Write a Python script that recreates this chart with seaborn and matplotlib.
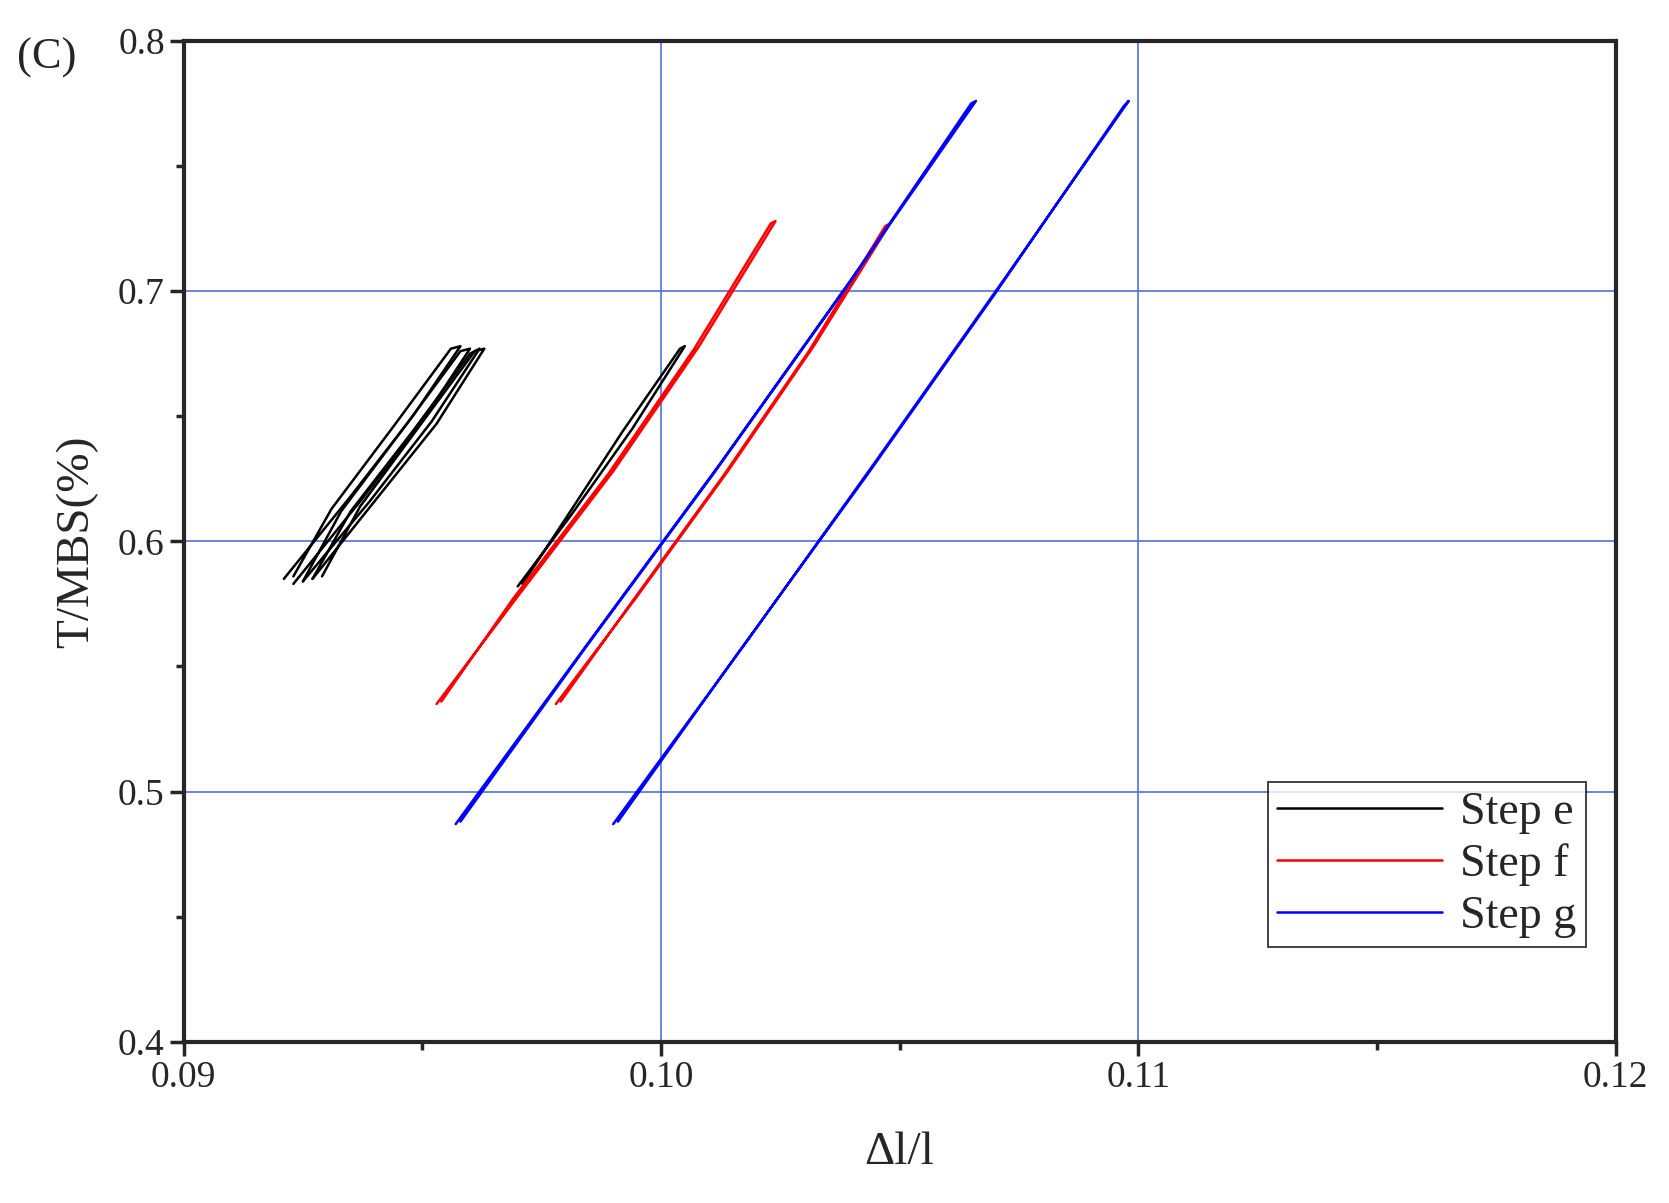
import matplotlib
matplotlib.use('Agg')
import matplotlib.pyplot as plt
import seaborn as sns
import pandas as pd

sns.set_style('ticks')
plt.rcParams['font.family'] = ['Liberation Serif', 'DejaVu Serif']

# each loop: strain going up then back down (hysteresis)
loops = {
    'Step e': [
        ([0.0921, 0.0935, 0.0948, 0.0958, 0.0956, 0.0944, 0.0931, 0.0923],
         [0.585, 0.618, 0.650, 0.678, 0.677, 0.646, 0.613, 0.586]),
        ([0.0923, 0.0937, 0.0950, 0.0960, 0.0958, 0.0946, 0.0933, 0.0925],
         [0.583, 0.616, 0.648, 0.677, 0.676, 0.645, 0.612, 0.584]),
        ([0.0925, 0.0939, 0.0952, 0.0962, 0.0960, 0.0948, 0.0935, 0.0927],
         [0.584, 0.616, 0.648, 0.677, 0.675, 0.644, 0.612, 0.585]),
        ([0.0927, 0.0940, 0.0953, 0.0963, 0.0961, 0.0949, 0.0937, 0.0929],
         [0.585, 0.616, 0.647, 0.677, 0.676, 0.645, 0.614, 0.586]),
        ([0.0970, 0.0981, 0.0994, 0.1005, 0.1004, 0.0992, 0.0980, 0.0971],
         [0.582, 0.610, 0.645, 0.678, 0.677, 0.644, 0.609, 0.583]),
    ],
    'Step f': [
        ([0.0953, 0.0970, 0.0990, 0.1008, 0.1024, 0.1023, 0.1007, 0.0989, 0.0969, 0.0954],
         [0.535, 0.578, 0.628, 0.678, 0.728, 0.727, 0.677, 0.627, 0.577, 0.536]),
        ([0.0978, 0.0995, 0.1014, 0.1032, 0.1048, 0.1047, 0.1031, 0.1013, 0.0994, 0.0979],
         [0.535, 0.578, 0.628, 0.678, 0.727, 0.726, 0.676, 0.626, 0.576, 0.536]),
    ],
    'Step g': [
        ([0.0957, 0.0985, 0.1012, 0.1040, 0.1066, 0.1065, 0.1039, 0.1011, 0.0984, 0.0958],
         [0.487, 0.560, 0.630, 0.705, 0.776, 0.775, 0.702, 0.627, 0.557, 0.488]),
        ([0.0990, 0.1018, 0.1045, 0.1072, 0.1098, 0.1097, 0.1070, 0.1043, 0.1016, 0.0991],
         [0.487, 0.560, 0.632, 0.705, 0.776, 0.774, 0.699, 0.626, 0.555, 0.488]),
    ],
}
colors = {'Step e': 'black', 'Step f': 'red', 'Step g': 'blue'}

rows = []
for step, ll in loops.items():
    for i, (xs, ys) in enumerate(ll):
        for j, (x, y) in enumerate(zip(xs, ys)):
            rows.append({'step': step, 'loop': f'{step}{i}', 'order': j, 'x': x, 'y': y})
df = pd.DataFrame(rows)

fig = plt.figure(figsize=(16.69, 12.03), dpi=100)
ax = fig.add_axes([0.110, 0.134, 0.858, 0.832])
ax.set_axisbelow(True)
ax.grid(True, color='#4f6fe0', lw=1.2)

for step in loops:
    sub = df[df.step == step]
    for k, (lp, g) in enumerate(sub.groupby('loop')):
        sns.lineplot(data=g, x='x', y='y', sort=False, color=colors[step],
                     lw=1.8, ax=ax, label=step if k == 0 else None)

ax.set_xlim(0.09, 0.12)
ax.set_ylim(0.4, 0.8)
ax.set_xticks([0.09, 0.10, 0.11, 0.12])
ax.set_xticklabels(['0.09', '0.10', '0.11', '0.12'])
ax.set_yticks([0.4, 0.5, 0.6, 0.7, 0.8])
ax.set_xticks([0.095, 0.105, 0.115], minor=True)
ax.set_yticks([0.45, 0.55, 0.65, 0.75], minor=True)
ax.tick_params(which='both', direction='out', labelsize=27, width=2.5,
               bottom=True, left=True)
ax.tick_params(which='major', length=10)
ax.tick_params(which='minor', length=6)
for s in ax.spines.values():
    s.set_linewidth(3)
ax.set_xlabel('Δl/l', fontsize=34, labelpad=26)
ax.set_ylabel('T/MBS(%)', fontsize=34, labelpad=14)
fig.text(0.010, 0.943, '(C)', fontsize=32)

leg = ax.legend(loc='lower right', bbox_to_anchor=(0.995, 0.072), fontsize=33,
                fancybox=False, edgecolor='black', handlelength=3.6, borderpad=0.2,
                labelspacing=0.2, handletextpad=0.4)
leg.get_frame().set_linewidth(1.3)

fig.savefig('out.png', dpi=100)
